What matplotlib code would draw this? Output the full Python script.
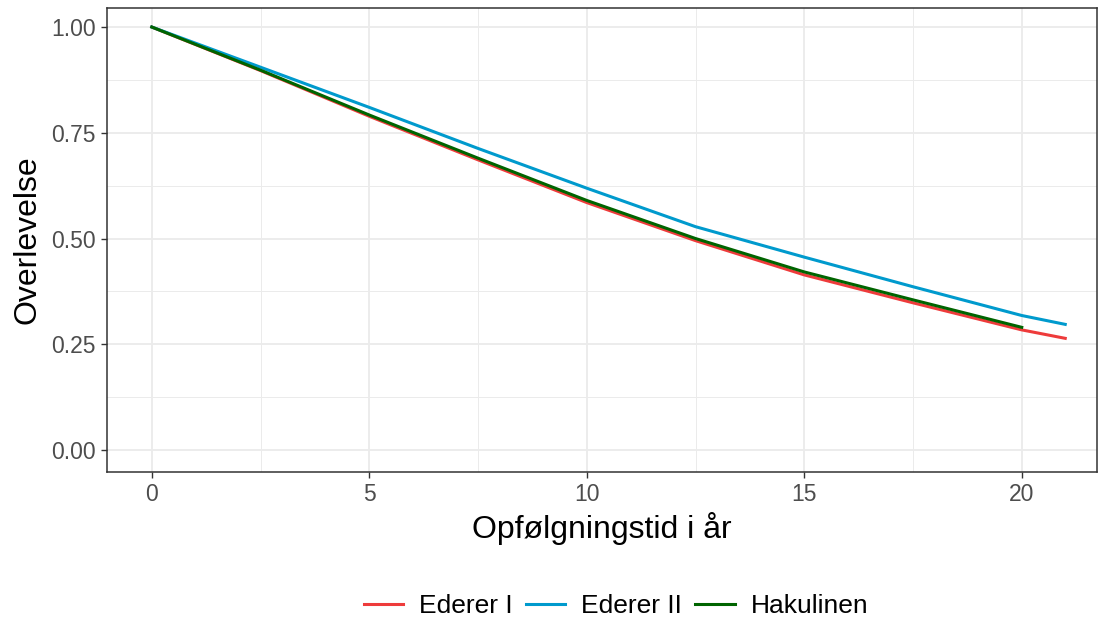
import matplotlib
matplotlib.use("Agg")
import matplotlib.pyplot as plt
from matplotlib.ticker import MultipleLocator, FormatStrFormatter

plt.rcParams['font.family'] = ['Liberation Sans', 'DejaVu Sans']

# Follow-up time (years) and survival estimates
t_full = [0, 2.5, 5, 7.5, 10, 12.5, 15, 17.5, 20, 21]
ederer1 = [1.0, 0.897, 0.789, 0.686, 0.585, 0.495, 0.414, 0.348, 0.284, 0.264]
ederer2 = [1.0, 0.905, 0.810, 0.713, 0.619, 0.528, 0.456, 0.386, 0.318, 0.297]
t_hak = [0, 2.5, 5, 7.5, 10, 12.5, 15, 17.5, 20]
hakulinen = [1.0, 0.898, 0.792, 0.690, 0.590, 0.500, 0.421, 0.355, 0.290]

labels = ["Ederer I", "Ederer II", "Hakulinen"]
colors = ["#EE3B3B", "#009ACD", "#006400"]
x_ticks = [0, 5, 10, 15, 20]
y_ticks = [0.00, 0.25, 0.50, 0.75, 1.00]

fig = plt.figure(figsize=(11.05, 6.2), dpi=100)
ax = fig.add_axes([107/1105, 1-472/620, (1097-107)/1105, (472-8)/620])

ax.plot(t_full, ederer1, color=colors[0], lw=2.2, label=labels[0])
ax.plot(t_full, ederer2, color=colors[1], lw=2.2, label=labels[1])
ax.plot(t_hak, hakulinen, color=colors[2], lw=2.2, label=labels[2])

ax.set_xlim(-1.03, 21.73)
ax.set_ylim(-0.052, 1.045)
ax.set_xticks(x_ticks)
ax.set_yticks(y_ticks)
ax.xaxis.set_minor_locator(MultipleLocator(2.5))
ax.yaxis.set_minor_locator(MultipleLocator(0.125))
ax.yaxis.set_major_formatter(FormatStrFormatter('%.2f'))

ax.grid(which='major', color='#EBEBEB', lw=1.3)
ax.grid(which='minor', color='#EBEBEB', lw=0.7)
ax.set_axisbelow(True)
for s in ax.spines.values():
    s.set_color('#333333')
    s.set_linewidth(1.1)

ax.tick_params(which='major', length=4, width=1, color='#333333',
               labelcolor='#4D4D4D', labelsize=16.5, pad=4)
ax.tick_params(which='minor', length=0)

ax.set_xlabel("Opfølgningstid i år", fontsize=23, color='black', labelpad=4)
ax.set_ylabel("Overlevelse", fontsize=23, color='black', labelpad=6)

fig.legend(loc='center', bbox_to_anchor=(616/1105, 1-606/620), ncol=3,
           frameon=False, fontsize=19, handlelength=1.5, handletextpad=0.6,
           columnspacing=0.5)

fig.savefig("out.png", dpi=100)
